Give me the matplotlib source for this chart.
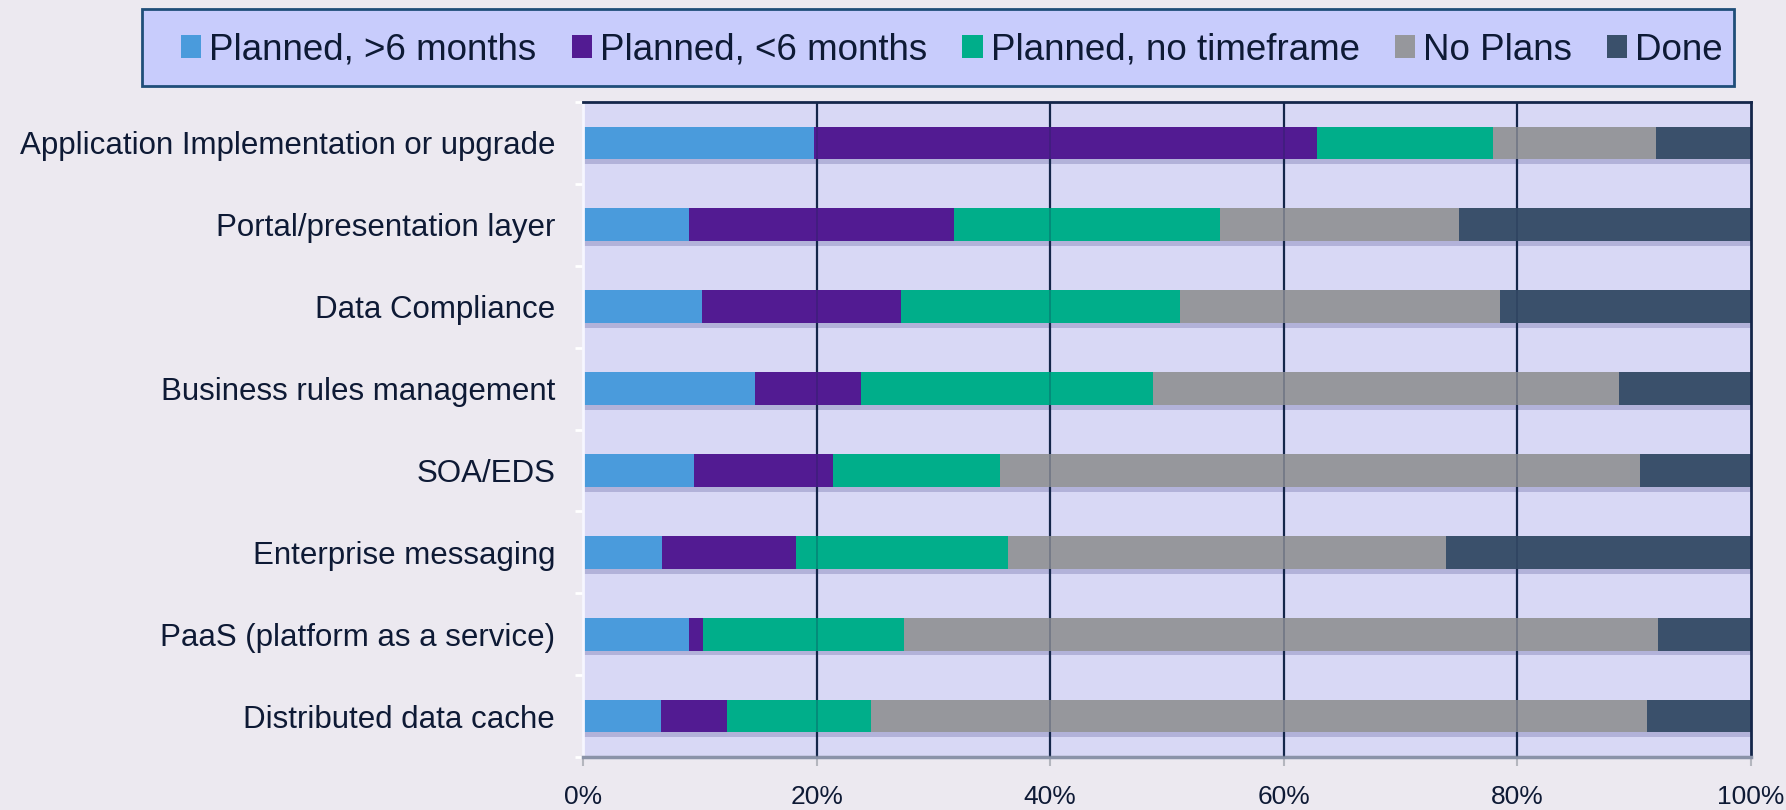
import numpy as np
import matplotlib.pyplot as plt
from matplotlib.patches import Patch, Rectangle

# categories, top to bottom
categories = [
    "Application Implementation or upgrade",
    "Portal/presentation layer",
    "Data Compliance",
    "Business rules management",
    "SOA/EDS",
    "Enterprise messaging",
    "PaaS (platform as a service)",
    "Distributed data cache",
]
series_names = ["Planned, >6 months", "Planned, <6 months", "Planned, no timeframe", "No Plans", "Done"]

# percentages
planned_gt6 = [19.8, 9.1, 10.2, 14.7, 9.5, 6.8, 9.1, 6.7]
planned_lt6 = [43.0, 22.7, 17.0, 9.1, 11.9, 11.4, 1.2, 5.6]
planned_none = [15.1, 22.7, 23.9, 25.0, 14.3, 18.2, 17.2, 12.4]
no_plans = [14.0, 20.5, 27.4, 39.9, 54.8, 37.5, 64.5, 66.4]
done = [8.1, 25.0, 21.5, 11.3, 9.5, 26.1, 8.0, 8.9]

x_ticks = [0, 20, 40, 60, 80, 100]
x_tick_labels = ["0%", "20%", "40%", "60%", "80%", "100%"]

colors = ["#4A9BDC", "#521B92", "#00AE8A", "#96979C", "#3A506B"]
text_color = "#0E1A35"
navy = "#14264A"

plt.rcParams['font.family'] = ['Liberation Sans', 'DejaVu Sans']

W, H = 1786, 810
fig = plt.figure(figsize=(W / 100, H / 100), dpi=100)
fig.patch.set_facecolor("#ECE9F0")
ax = fig.add_axes([583 / W, 1 - 757 / H, (1751 - 583) / W, (757 - 102) / H])
ax.set_facecolor("#D8D8F5")

y = np.arange(len(categories))
bar_h = 0.40

# soft shadow under the bars
totals = np.sum([planned_gt6, planned_lt6, planned_none, no_plans, done], axis=0)
ax.barh(y + 0.06, totals, height=bar_h, color="#A9A9D2", alpha=0.8, zorder=1)

left = np.zeros(len(categories))
for vals, col, name in zip([planned_gt6, planned_lt6, planned_none, no_plans, done], colors, series_names):
    ax.barh(y, vals, left=left, height=bar_h, color=col, label=name, zorder=2)
    left += np.array(vals)

# vertical gridlines
for xv in x_ticks[1:-1]:
    ax.axvline(xv, color=navy, lw=1.6, zorder=1.5)
    ax.axvline(xv, color=navy, lw=1.4, alpha=0.25, zorder=3)

ax.set_xlim(0, 100)
ax.set_ylim(len(categories) - 0.5, -0.5)

ax.set_xticks(x_ticks)
ax.set_xticklabels(x_tick_labels, fontsize=19, color=text_color)
ax.tick_params(axis="x", direction="out", length=6.5, width=1.5, color="#B4B6BE", pad=14)

ax.set_yticks(y)
ax.set_yticklabels(categories, fontsize=22.5, color=text_color)
ax.tick_params(axis="y", which="major", length=0, pad=20)
ax.set_yticks(np.arange(-0.5, len(categories)), minor=True)
ax.tick_params(axis="y", which="minor", direction="out", length=6, width=2, color="white")

ax.spines["top"].set_color(navy)
ax.spines["top"].set_linewidth(2)
ax.spines["right"].set_color(navy)
ax.spines["right"].set_linewidth(2)
ax.spines["left"].set_color("#F6F6FF")
ax.spines["left"].set_linewidth(2)
ax.spines["bottom"].set_color("#8A93A8")
ax.spines["bottom"].set_linewidth(2.5)

# legend box
fig.patches.append(Rectangle((142 / W, 1 - 86 / H), (1734 - 142) / W, 77 / H,
                             transform=fig.transFigure, facecolor="#C8CCFC",
                             edgecolor="#1F4E79", linewidth=2, zorder=0))
handles = [Patch(facecolor=c, edgecolor="none") for c in colors]
leg = fig.legend(handles, series_names, loc="center",
                 bbox_to_anchor=(952 / W, 1 - 50 / H),
                 ncol=5, fontsize=26.5, frameon=False,
                 handlelength=0.55, handleheight=0.55, handletextpad=0.22,
                 columnspacing=0.95, borderpad=0, borderaxespad=0)
for t in leg.get_texts():
    t.set_color(text_color)

fig.savefig("out.png", dpi=100, facecolor=fig.get_facecolor())
